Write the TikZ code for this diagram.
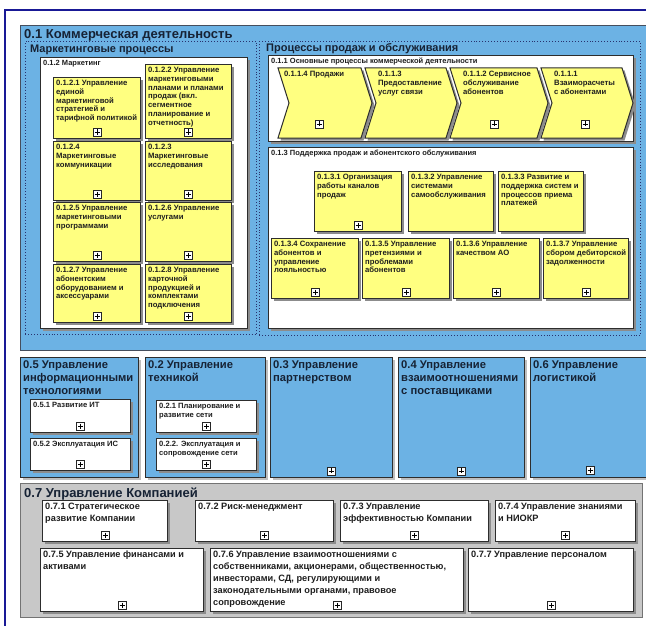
\documentclass[tikz,border=0pt]{standalone}
\usepackage{fontspec}
\setmainfont{Liberation Sans}
\usetikzlibrary{shadows}
\definecolor{lblue}{RGB}{108,178,228}
\definecolor{yel}{RGB}{255,255,128}
\definecolor{grayb}{RGB}{200,200,200}
\definecolor{frame}{RGB}{25,25,150}
\definecolor{bord}{RGB}{45,45,45}
\definecolor{dotc}{RGB}{40,50,110}
\definecolor{txt}{RGB}{30,30,30}
\definecolor{ttl}{RGB}{22,34,52}
\tikzset{
  shd/.style={drop shadow={shadow xshift=2.5pt,shadow yshift=-2.5pt,fill=black!45,opacity=1}},
  ybox/.style={draw=bord, fill=yel, line width=1pt, shd},
  wbox/.style={draw=bord, fill=white, line width=1pt, shd},
  bbox/.style={draw=bord, fill=lblue, line width=0.9pt, drop shadow={shadow xshift=3pt,shadow yshift=-3pt,fill=black!25,opacity=1}},
  gbox/.style={draw=black!55, fill=grayb, line width=0.9pt},
  dotbox/.style={draw=dotc, line width=0.9pt, dotted},
  ytxt/.style={font=\fontsize{7.7}{8.8}\selectfont\bfseries, text=txt},
  ltxt/.style={font=\fontsize{7.5}{9}\selectfont\bfseries, text=txt},
  stxt/.style={font=\fontsize{7.6}{9}\selectfont\bfseries, text=txt},
  gtxt/.style={font=\fontsize{9.2}{12}\selectfont\bfseries, text=txt},
  btitle/.style={font=\fontsize{11.2}{13.3}\selectfont\bfseries, text=ttl, align=left, inner sep=0pt, anchor=north west},
  bigtitle/.style={font=\fontsize{13}{15}\selectfont\bfseries, text=ttl, inner sep=0pt, anchor=base west},
  subtitle/.style={font=\fontsize{11}{13}\selectfont\bfseries, text=ttl, inner sep=0pt, anchor=base west},
  plusbox/.style={draw=black!85, fill=white, line width=0.5pt, minimum size=8pt, inner sep=0pt,
    path picture={\draw[line width=0.6pt, black]
      ([yshift=-1.5pt]path picture bounding box.north) -- ([yshift=1.5pt]path picture bounding box.south)
      ([xshift=1.5pt]path picture bounding box.west) -- ([xshift=-1.5pt]path picture bounding box.east);}},
}
% #1 box style, #2 text style, #3 name, #4 x1, #5 y1, #6 x2, #7 y2, #8 text
\newcommand\rbox[8]{%
  \pgfmathsetmacro\rbW{#6-#4}\pgfmathsetmacro\rbH{#7-#5}%
  \node[#1, anchor=north west, minimum width=\rbW pt, minimum height=\rbH pt, inner sep=0pt] (#3) at (#4,#5) {};
  \node[#2, anchor=north west, align=left, inner sep=0pt] (#3t) at ([xshift=3pt,yshift=-3pt]#3.north west) {#8};
}
\newcommand\pl[1]{\node[plusbox] (#1p) at ([yshift=7pt]#1.south) {};}
% chevron: #1 name, #2 x1, #3 x2, #4 text offset, #5 text
\newcommand\chev[5]{%
  \draw[ybox] (#2,68) -- (#3-11,68) -- (#3,103) -- (#3-11,138) -- (#2,138) -- (#2+11,103) -- cycle;
  \coordinate (#1) at ({(#2+#3)/2},103);
  \node[ytxt, anchor=north west, align=left, inner sep=0pt] (#1t) at (#2+#4,71) {#5};
}
\begin{document}
\begin{tikzpicture}[x=1pt,y=-1pt]
\useasboundingbox (0,0) rectangle (646,626);
\fill[white] (0,0) rectangle (646,626);
\draw[frame, line width=1.3pt] (5,630) -- (5,10) -- (650,10);

% ===== 0.1 =====
\node[draw=ttl!80, fill=lblue, line width=0.9pt, anchor=north west, minimum width=640pt, minimum height=325pt, inner sep=0pt] (b01) at (20,25) {};
\node[bigtitle] (t01) at (24,38.5) {0.1 Коммерческая деятельность};
\node[dotbox, anchor=north west, minimum width=231pt, minimum height=293pt, inner sep=0pt] (mk) at (25,41) {};
\node[dotbox, anchor=north west, minimum width=381pt, minimum height=294pt, inner sep=0pt] (sl) at (259,41) {};
\node[subtitle] (tmk) at (30,53) {Маркетинговые процессы};

\rbox{wbox}{ltxt}{b012}{40}{57}{247}{328}{0.1.2 Маркетинг}
\rbox{ybox}{ytxt}{b0121}{53}{77}{140}{138}{0.1.2.1 Управление\\единой\\маркетинговой\\стратегией и\\тарифной политикой}\pl{b0121}
\rbox{ybox}{ytxt}{b0122}{145}{64}{231}{138}{0.1.2.2 Управление\\маркетинговыми\\планами и планами\\продаж (вкл.\\сегментное\\планирование и\\отчетность)}\pl{b0122}
\rbox{ybox}{ytxt}{b0124}{53}{141}{140}{200}{0.1.2.4\\Маркетинговые\\коммуникации}\pl{b0124}
\rbox{ybox}{ytxt}{b0123}{145}{141}{231}{200}{0.1.2.3\\Маркетинговые\\исследования}\pl{b0123}
\rbox{ybox}{ytxt}{b0125}{53}{202}{140}{261}{0.1.2.5 Управление\\маркетинговыми\\программами}\pl{b0125}
\rbox{ybox}{ytxt}{b0126}{145}{202}{231}{261}{0.1.2.6 Управление\\услугами}\pl{b0126}
\rbox{ybox}{ytxt}{b0127}{53}{264}{140}{322}{0.1.2.7 Управление\\абонентским\\оборудованием и\\аксессуарами}\pl{b0127}
\rbox{ybox}{ytxt}{b0128}{145}{264}{231}{322}{0.1.2.8 Управление\\карточной\\продукцией и\\комплектами\\подключения}\pl{b0128}

\rbox{wbox}{ltxt}{b011}{268}{55}{633}{141}{0.1.1 Основные процессы коммерческой деятельности}
\node[subtitle] (tsl) at (266,52) {Процессы продаж и обслуживания};
\chev{c4}{278}{372}{6}{0.1.1.4 Продажи}
\chev{c3}{365}{457}{13}{0.1.1.3\\Предоставление\\услуг связи}
\chev{c2}{450}{548}{13}{0.1.1.2 Сервисное\\обслуживание\\абонентов}
\chev{c1}{541}{633}{13}{0.1.1.1\\Взаиморасчеты\\с абонентами}
\node[plusbox] (c4p) at ([xshift=-6pt]c4 |- 0,124) {};
\node[plusbox] (c2p) at ([xshift=-5pt]c2 |- 0,124) {};
\node[plusbox] (c1p) at ([xshift=-2pt]c1 |- 0,124) {};

\rbox{wbox}{ltxt}{b013}{268}{147}{633}{328}{0.1.3 Поддержка продаж и абонентского обслуживания}
\rbox{ybox}{ytxt}{b0131}{314}{171}{401}{231}{0.1.3.1 Организация\\работы каналов\\продаж}\pl{b0131}
\rbox{ybox}{ytxt}{b0132}{408}{171}{493}{231}{0.1.3.2 Управление\\системами\\самообслуживания}
\rbox{ybox}{ytxt}{b0133}{498}{171}{583}{231}{0.1.3.3 Развитие и\\поддержка систем и\\процессов приема\\платежей}
\rbox{ybox}{ytxt}{b0134}{271}{238}{358}{298}{0.1.3.4 Сохранение\\абонентов и\\управление\\лояльностью}\pl{b0134}
\rbox{ybox}{ytxt}{b0135}{362}{238}{449}{298}{0.1.3.5 Управление\\претензиями и\\проблемами\\абонентов}\pl{b0135}
\rbox{ybox}{ytxt}{b0136}{453}{238}{539}{298}{0.1.3.6 Управление\\качеством АО}\pl{b0136}
\rbox{ybox}{ytxt}{b0137}{543}{238}{628}{298}{0.1.3.7 Управление\\сбором дебиторской\\задолженности}\pl{b0137}

% ===== lower blue blocks =====
\rbox{bbox}{btitle}{b05}{20}{357}{138}{477}{0.5 Управление\\информационными\\технологиями}
\rbox{bbox}{btitle}{b02}{145}{357}{265}{477}{0.2 Управление\\техникой}
\rbox{bbox}{btitle}{b03}{270}{357}{392}{477}{0.3 Управление\\партнерством}\pl{b03}
\rbox{bbox}{btitle}{b04}{398}{357}{524}{477}{0.4 Управление\\взаимоотношениями\\с поставщиками}\pl{b04}
\rbox{bbox}{btitle}{b06}{530}{357}{655}{477}{0.6 Управление\\логистикой}
\node[plusbox] (b06p) at (590,470) {};
\rbox{wbox}{stxt}{b051}{30}{399}{130}{432}{0.5.1 Развитие ИТ}\pl{b051}
\rbox{wbox}{stxt}{b052}{30}{438}{130}{470}{0.5.2 Эксплуатация ИС}\pl{b052}
\rbox{wbox}{stxt}{b021}{156}{400}{256}{432}{0.2.1 Планирование и\\развитие сети}\pl{b021}
\rbox{wbox}{stxt}{b022}{156}{438}{256}{470}{0.2.2. Эксплуатация и\\сопровождение сети}\pl{b022}

% ===== 0.7 =====
\node[gbox, anchor=north west, minimum width=622pt, minimum height=134pt, inner sep=0pt] (b07) at (20,483) {};
\node[bigtitle] (t07) at (24,497) {0.7 Управление Компанией};
\rbox{wbox}{gtxt}{b071}{42}{500}{167}{541}{0.7.1 Стратегическое\\развитие Компании}\pl{b071}
\rbox{wbox}{gtxt}{b072}{195}{500}{333}{541}{0.7.2 Риск-менеджмент}\pl{b072}
\rbox{wbox}{gtxt}{b073}{340}{500}{488}{541}{0.7.3 Управление\\эффективностью Компании}\pl{b073}
\rbox{wbox}{gtxt}{b074}{495}{500}{635}{541}{0.7.4 Управление знаниями\\и НИОКР}\pl{b074}
\rbox{wbox}{gtxt}{b075}{40}{548}{203}{611}{0.7.5 Управление финансами и\\активами}\pl{b075}
\rbox{wbox}{gtxt}{b076}{210}{548}{463}{611}{0.7.6 Управление взаимоотношениями с\\собственниками, акционерами, общественностью,\\инвесторами, СД, регулирующими и\\законодательными органами, правовое\\сопровождение}\pl{b076}
\rbox{wbox}{gtxt}{b077}{468}{548}{633}{611}{0.7.7 Управление персоналом}\pl{b077}
\end{tikzpicture}
\end{document}
